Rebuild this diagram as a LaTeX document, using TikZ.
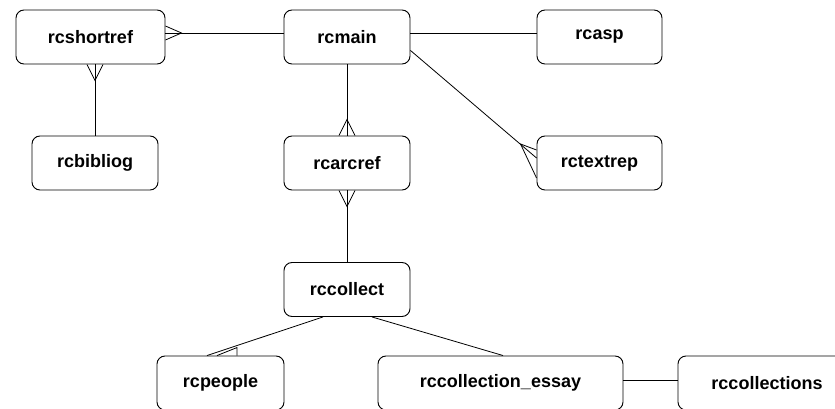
\documentclass[tikz,border=0pt]{standalone}
\usepackage{fontspec}
\setmainfont{Liberation Sans}
\usetikzlibrary{calc}

\begin{document}
\begin{tikzpicture}[
  x=0.75pt, y=-0.75pt,
  table/.style={draw, line width=0.7pt, rounded corners=6pt, fill=white,
    minimum height=40.5pt, inner sep=0pt,
    font=\fontsize{13.5}{15}\selectfont\bfseries},
  link/.style={draw, line width=0.6pt},
  crow/.style={draw, line width=0.6pt},
]

% --- Rahmen (Bildgroesse) ---
\useasboundingbox (0,0) rectangle (835,409);
\clip (0,0) rectangle (835,409);

% --- Tabellen, obere Reihe ---
\node[table, minimum width=111.75pt] (rcshortref) at (90.5,37) {rcshortref};
\node[table, minimum width=94.5pt]   (rcmain)     at (347,37)   {rcmain};
\node[table, minimum width=93.75pt]  (rcasp)      at (599.5,37) {rcasp};

% --- zweite Reihe ---
\node[table, minimum width=94.5pt]   (rcbibliog)  at (95,163)    {rcbibliog};
\node[table, minimum width=94.5pt]   (rcarcref)   at (347,163)   {rcarcref};
\node[table, minimum width=93.75pt]  (rctextrep)  at (599.5,163) {rctextrep};

% --- dritte und vierte Reihe (unten abgeschnitten) ---
\node[table, minimum width=94.5pt]   (rccollect)  at (347,289.5) {rccollect};
\node[table, minimum width=95.25pt]  (rcpeople)   at (220.5,383) {rcpeople};
\node[table, minimum width=183.75pt] (rcessay)    at (500.5,383) {rccollection\_essay};
\node[table, minimum width=133.5pt]  (rccolls)    at (767,383)   {rccollections};

% --- rcshortref -- rcmain (viele auf Seite rcshortref) ---
\coordinate (e1) at ($(rcshortref.east)+(0,-4)$);
\draw[link] (e1) -- (e1 -| rcmain.west);
\coordinate (a1) at ($(e1)+(16,0)$);
\draw[crow] ($(e1)+(0,-7)$) -- (a1) -- ($(e1)+(0,7)$);

% --- rcshortref -- rcbibliog ---
\draw[link] (rcbibliog.north) -- (rcbibliog.north |- rcshortref.south) coordinate (e2);
\coordinate (a2) at ($(e2)+(0,16)$);
\draw[crow] ($(e2)+(-8,0)$) -- (a2) -- ($(e2)+(8,0)$);

% --- rcmain -- rcasp ---
\draw[link] ($(rcmain.east)+(0,-4)$) -- ($(rcasp.west)+(0,-4)$);

% --- rcmain -- rcarcref (viele auf Seite rcarcref) ---
\draw[link] (rcmain.south) -- (rcarcref.north);
\coordinate (a3) at ($(rcarcref.north)+(0,-16)$);
\draw[crow] ($(rcarcref.north)+(-8,0)$) -- (a3) -- ($(rcarcref.north)+(8,0)$);

% --- rcmain -- rctextrep (schraeg) ---
\draw[link] ($(rcmain.south east)+(0,-14)$) -- ($(rctextrep.west)+(0,-5)$);
\coordinate (a4) at ($(rctextrep.west)+(-16,-19)$);
\draw[crow] ($(rctextrep.west)+(0,-13)$) -- (a4) -- ($(rctextrep.west)+(0,15)$);

% --- rcarcref -- rccollect (viele auf Seite rcarcref) ---
\draw[link] (rcarcref.south) -- (rccollect.north);
\coordinate (a5) at ($(rcarcref.south)+(0,16)$);
\draw[crow] ($(rcarcref.south)+(-8,0)$) -- (a5) -- ($(rcarcref.south)+(8,0)$);

% --- rccollect -- rcpeople ---
\draw[link] ($(rccollect.south)+(-24,0)$) -- ($(rcpeople.north)+(-13.5,0)$);
\coordinate (a6) at ($(rcpeople.north)+(16.5,-8)$);
\draw[crow] ($(rcpeople.north)+(-3.5,0)$) -- (a6) -- ($(rcpeople.north)+(16.5,0)$);

% --- rccollect -- rccollection_essay ---
\draw[link] ($(rccollect.south)+(25,0)$) -- ($(rcessay.north)+(2.5,0)$);

% --- rccollection_essay -- rccollections ---
\draw[link] ($(rcessay.east)+(0,-3)$) -- ($(rccolls.west)+(0,-3)$);

\end{tikzpicture}
\end{document}
